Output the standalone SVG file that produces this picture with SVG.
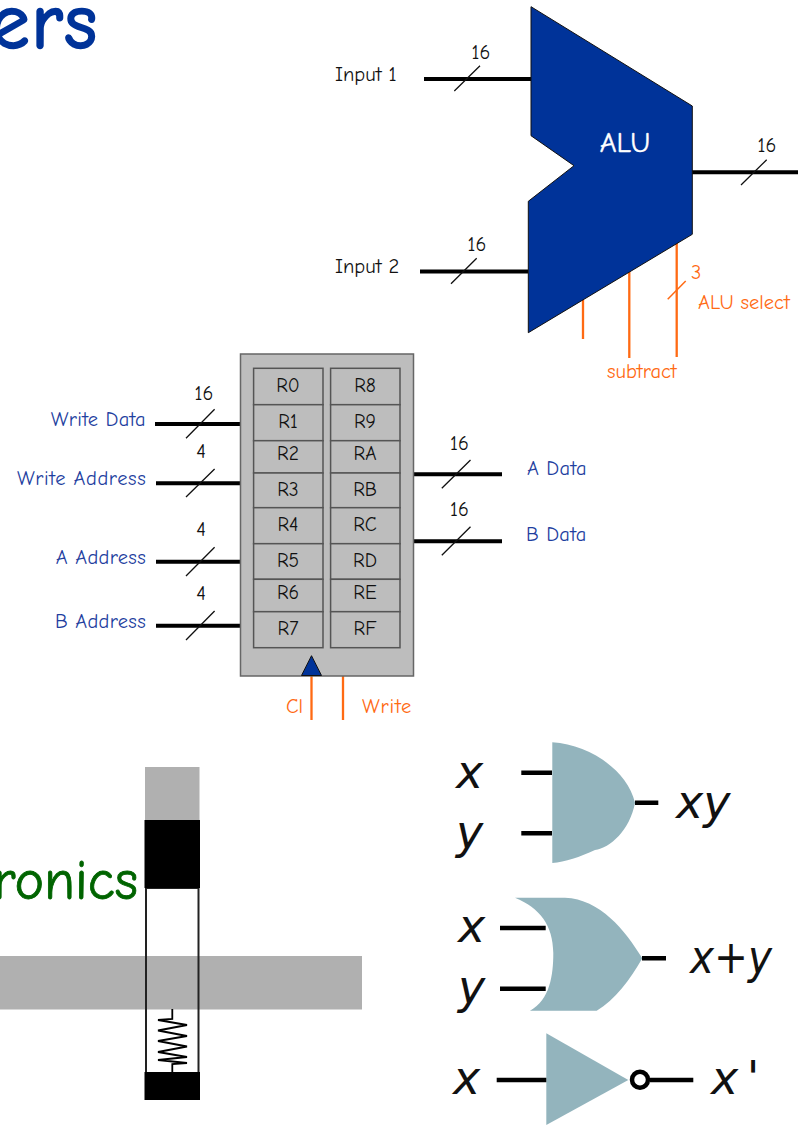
<svg xmlns="http://www.w3.org/2000/svg" width="798" height="1125" viewBox="0 0 798 1125">
<style>
text{font-family:"Comic Neue","Noto Sans","DejaVu Sans",sans-serif}
.k{font-size:20.5px;fill:#111}
.b{font-size:20.5px;fill:#1f3f9f;letter-spacing:.3px}
.o{font-size:20.5px;fill:#ff6a13}
.r{font-size:19.5px;fill:#111;text-anchor:middle}
.n{font-size:20px;fill:#111;text-anchor:middle}
.e{text-anchor:end}
.bus{stroke:#000;stroke-width:4;fill:none}
.sl{stroke:#111;stroke-width:1.3;fill:none}
.ctl{stroke:#ff6a13;stroke-width:2.3;fill:none}
.cell{fill:#bdbdbd;stroke:#555;stroke-width:1.5}
.g{fill:#93b4bd}
.w{stroke:#000;stroke-width:4.5;fill:none}
.m{font-family:"DejaVu Sans",Verdana,sans-serif;font-style:italic;font-size:46px;fill:#111}
</style>
<text x="99" y="48" text-anchor="end" style="font-size:78px;letter-spacing:2px;fill:#003399;stroke:#003399;stroke-width:2.4">ers</text>
<g id="connectors">
<path class="bus" d="M424 79H531M420 271.5H528M692 172.3H798M155 424H240M156 483.3H240M156 561.7H240M156 625.7H240M414 474.3H502M414 541.3H502"/>
<path class="sl" d="M454.3 91L480 65.7M451 283.7L476.7 258.3M741 185L766.7 159.7M186 438.3L214.6 409.3M186 497L214.6 469M186 576L214.6 547.3M186 640L214.6 611M441.8 488.3L470.5 460M441.8 555.3L470.5 526.7"/>
<path class="ctl" d="M583 300V339M629.3 272V358M676.7 243V357M311.5 676V720M343 676V720"/>
<path d="M667.7 299.3L685.7 281" stroke="#ff6a13" stroke-width="1.5" fill="none"/>
</g>
<g id="alu">
<polygon points="531,6.7 692.3,106 692.3,234.3 528.3,332.7 528.3,201.3 574,165.7 531,135.7" fill="#003399" stroke="#111" stroke-width="1"/>
<text x="625" y="152" text-anchor="middle" style="font-size:29px;fill:#fff;stroke:#fff;stroke-width:.4">ALU</text>
</g>
<g id="alu-labels">
<text class="k" x="335" y="81">Input 1</text>
<text class="k" x="335" y="273">Input 2</text>
<text class="n" x="481" y="59">16</text>
<text class="n" x="477" y="251">16</text>
<text class="n" x="767" y="152">16</text>
<text class="o" x="691" y="279">3</text>
<text class="o" x="698" y="309">ALU select</text>
<text class="o" x="607" y="378">subtract</text>
</g>
<g id="register-file">
<rect x="240.5" y="354" width="173" height="322" fill="#bdbdbd" stroke="#666" stroke-width="1.5"/>
<rect class="cell" x="253.6" y="368.3" width="69.4" height="36.4"/><rect class="cell" x="253.6" y="404.7" width="69.4" height="36"/><rect class="cell" x="253.6" y="440.7" width="69.4" height="32.3"/><rect class="cell" x="253.6" y="473" width="69.4" height="34.7"/><rect class="cell" x="253.6" y="507.7" width="69.4" height="36"/><rect class="cell" x="253.6" y="543.7" width="69.4" height="35.6"/><rect class="cell" x="253.6" y="579.3" width="69.4" height="32.4"/><rect class="cell" x="253.6" y="611.7" width="69.4" height="36"/>
<rect class="cell" x="330.6" y="368.3" width="69.4" height="36.4"/><rect class="cell" x="330.6" y="404.7" width="69.4" height="36"/><rect class="cell" x="330.6" y="440.7" width="69.4" height="32.3"/><rect class="cell" x="330.6" y="473" width="69.4" height="34.7"/><rect class="cell" x="330.6" y="507.7" width="69.4" height="36"/><rect class="cell" x="330.6" y="543.7" width="69.4" height="35.6"/><rect class="cell" x="330.6" y="579.3" width="69.4" height="32.4"/><rect class="cell" x="330.6" y="611.7" width="69.4" height="36"/>
<text class="r" x="288" y="392">R0</text><text class="r" x="288" y="428">R1</text><text class="r" x="288" y="460">R2</text><text class="r" x="288" y="496">R3</text><text class="r" x="288" y="531">R4</text><text class="r" x="288" y="567">R5</text><text class="r" x="288" y="599">R6</text><text class="r" x="288" y="635">R7</text>
<text class="r" x="365" y="392">R8</text><text class="r" x="365" y="428">R9</text><text class="r" x="365" y="460">RA</text><text class="r" x="365" y="496">RB</text><text class="r" x="365" y="531">RC</text><text class="r" x="365" y="567">RD</text><text class="r" x="365" y="599">RE</text><text class="r" x="365" y="635">RF</text>
<polygon points="311.5,655.7 301.5,675.5 321.5,675.5" fill="#003399" stroke="#111" stroke-width="1"/>
</g>
<g id="register-labels">
<text class="b e" x="146" y="426">Write Data</text>
<text class="b e" x="146" y="485" textLength="129">Write Address</text>
<text class="b e" x="146" y="563.5">A Address</text>
<text class="b e" x="146" y="627.5">B Address</text>
<text class="b" x="527" y="475">A Data</text>
<text class="b" x="526" y="541">B Data</text>
<text class="n" x="204" y="400">16</text>
<text class="n" x="201" y="458">4</text>
<text class="n" x="201" y="536">4</text>
<text class="n" x="201" y="600">4</text>
<text class="n" x="459.4" y="450">16</text>
<text class="n" x="459.4" y="516">16</text>
<text class="o" x="286" y="713">Cl</text>
<text class="o" x="362" y="713" style="letter-spacing:.8px">Write</text>
</g>
<g id="transistor">
<rect x="145" y="767" width="54.5" height="53" fill="#b0b0b0"/>
<rect x="0" y="956" width="362" height="53.5" fill="#b0b0b0"/>
<rect x="146" y="888" width="52.5" height="185" fill="none" stroke="#222" stroke-width="2"/>
<rect x="144.5" y="820" width="55.5" height="68" fill="#000"/>
<rect x="144.5" y="1072" width="55.5" height="28" fill="#000"/>
<polyline points="172.3,1009 172.3,1019 158,1020 187,1025 158,1030.5 187,1036 158,1041 187,1046.5 158,1052 187,1057 158,1060 187,1063 172.3,1064 172.3,1073" fill="none" stroke="#000" stroke-width="1.8"/>
</g>
<text id="electronics" x="138" y="899" text-anchor="end" style="font-size:56px;fill:#006400;stroke:#006400;stroke-width:.8">ronics</text>
<g id="and-gate">
<path class="g" d="M552.3 742.3C590 745 627 770 635 802.7C630 830 610 848 595 850C580 857 565 862 552.3 863Z"/>
<path class="w" d="M521.3 772.7H552M521.3 833.3H552M635 802.7H658.3"/>
<text class="m" x="456" y="788">x</text><text class="m" x="456" y="848">y</text><text class="m" x="676" y="818">xy</text>
</g>
<g id="or-gate">
<path class="g" d="M515 897.7H565C600 899 625 930 642.3 958.3C630 980 615 1000 596.7 1010.7H530C550 1000 553.3 975 553.3 953C553 925 540 908 515 897.7Z"/>
<path class="w" d="M500 928H545.7M500 988.7H545.7M642 958.3H666"/>
<text class="m" x="458" y="942">x</text><text class="m" x="458" y="1003">y</text><text class="m" x="690" y="973" textLength="82" lengthAdjust="spacingAndGlyphs">x+y</text>
</g>
<g id="not-gate">
<polygon class="g" points="546.3,1033.3 628.3,1080 546.3,1125"/>
<path class="w" d="M496.7 1080H546.3M650 1080H693.3"/>
<circle cx="640" cy="1079.7" r="8" fill="#fff" stroke="#000" stroke-width="4.5"/>
<text class="m" x="453" y="1094">x</text><text class="m" x="711" y="1094" style="letter-spacing:-3px">x '</text>
</g>
</svg>
